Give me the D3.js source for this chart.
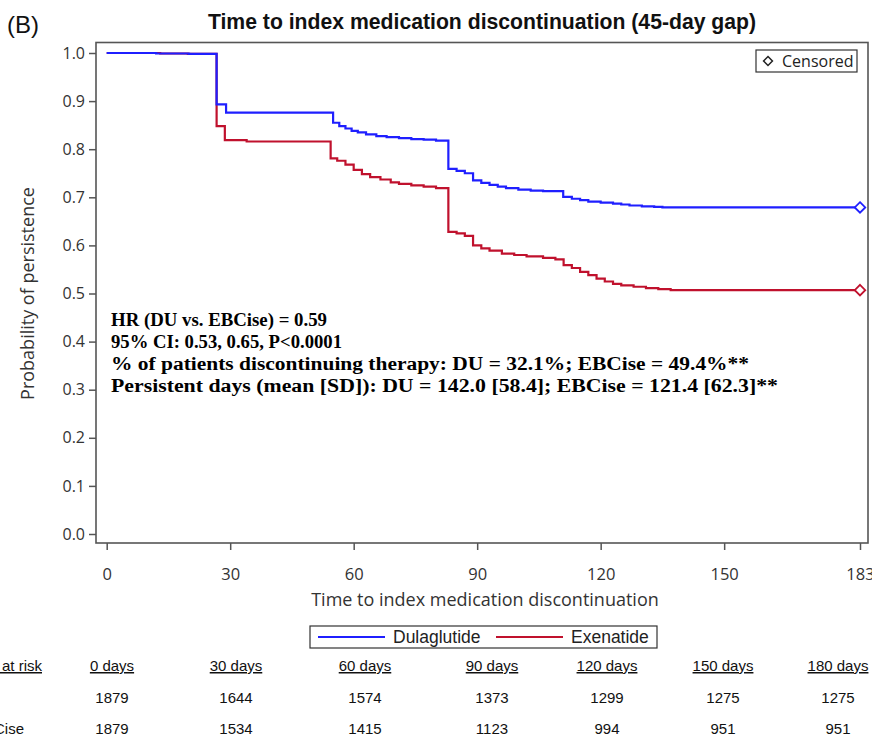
<!DOCTYPE html>
<html><head><meta charset="utf-8">
<script src="https://cdn.jsdelivr.net/npm/d3@7"></script>
<style>
html,body{margin:0;padding:0;background:#fff;}
svg{display:block;}
</style></head>
<body>
<svg id="chart" width="872" height="739"></svg>
<script>
// ---------- DATA ----------
const seriesNames = ["Dulaglutide", "Exenatide"];
const duTimes  = [0, 12, 20, 26.7, 29, 55, 56.5, 58, 59.5, 61, 63, 65.5, 68, 71, 74, 77, 80, 83, 85, 87, 89, 91, 93, 95, 97, 100, 103, 106, 110.9, 113, 115, 117, 120, 123, 125, 127, 130, 133, 135];
const duValues = [1.0, 0.999, 0.998, 0.893, 0.876, 0.855, 0.848, 0.843, 0.838, 0.835, 0.831, 0.827, 0.825, 0.823, 0.821, 0.820, 0.818, 0.759, 0.755, 0.750, 0.735, 0.730, 0.726, 0.722, 0.719, 0.716, 0.714, 0.713, 0.701, 0.697, 0.694, 0.691, 0.689, 0.687, 0.685, 0.683, 0.681, 0.680, 0.679];
const exTimes  = [0, 13, 19.7, 26.7, 28.7, 34, 54.4, 56, 58, 60, 62, 64, 66.5, 69, 71, 74, 77, 80, 83, 85, 87, 89, 91, 93, 96, 99, 102, 106, 109, 111, 113, 115, 117, 119, 121, 123, 125, 128, 131, 134, 137];
const exValues = [1.0, 0.999, 0.998, 0.848, 0.819, 0.816, 0.781, 0.776, 0.768, 0.757, 0.748, 0.742, 0.737, 0.731, 0.728, 0.725, 0.722, 0.719, 0.628, 0.625, 0.620, 0.600, 0.594, 0.589, 0.583, 0.580, 0.577, 0.574, 0.571, 0.559, 0.553, 0.545, 0.538, 0.531, 0.525, 0.520, 0.517, 0.514, 0.511, 0.509, 0.507];
const censorTime = 183;
const xTicks = [0, 30, 60, 90, 120, 150, 183];
const yTicks = [0, 0.1, 0.2, 0.3, 0.4, 0.5, 0.6, 0.7, 0.8, 0.9, 1.0];
const statLines = [
  "HR (DU vs. EBCise) = 0.59",
  "95% CI: 0.53, 0.65, P<0.0001",
  "% of patients discontinuing therapy: DU = 32.1%; EBCise = 49.4%**",
  "Persistent days (mean [SD]): DU = 142.0 [58.4]; EBCise = 121.4 [62.3]**"
];
const riskHeader = "Number at risk";
const riskDays = ["0 days", "30 days", "60 days", "90 days", "120 days", "150 days", "180 days"];
const riskRowLabels = ["DU", "EBCise"];
const riskDU = [1879, 1644, 1574, 1373, 1299, 1275, 1275];
const riskEB = [1879, 1534, 1415, 1123, 994, 951, 951];

// ---------- LAYOUT ----------
const svg = d3.select("#chart");
const frame = {l: 96, r: 868, t: 42.5, b: 543};
const x = d3.scaleLinear().domain([0, 183]).range([106.7, 860]);
const y = d3.scaleLinear().domain([0, 1]).range([534, 53]);
const colors = {du: "#1f1fff", ex: "#c0112d"};
const axisColor = "#555";
const sans = "'Open Sans', 'Noto Sans', sans-serif";
const arial = "'Liberation Sans', Arial, sans-serif";

// panel label & title
svg.append("text").attr("x", 7).attr("y", 33).attr("font-family", arial)
  .attr("font-size", 24).attr("fill", "#111").text("(B)");
svg.append("text").attr("x", 482).attr("y", 29).attr("text-anchor", "middle")
  .attr("font-family", arial).attr("font-weight", "bold").attr("font-size", 21.2)
  .attr("fill", "#111").text("Time to index medication discontinuation (45-day gap)");

// y axis
const yAxis = d3.axisLeft(y).tickValues(yTicks).tickFormat(d3.format(".1f")).tickSize(7).tickPadding(4);
const gy = svg.append("g").attr("transform", `translate(${frame.l},0)`).call(yAxis);
gy.select(".domain").remove();
gy.selectAll("line").attr("stroke", axisColor).attr("stroke-width", 1.5);
gy.selectAll("text").attr("font-family", sans).attr("font-size", 16).attr("fill", "#333");

// x axis
const xAxis = d3.axisBottom(x).tickValues(xTicks).tickFormat(d3.format("d")).tickSize(7).tickPadding(18);
const gx = svg.append("g").attr("transform", `translate(0,${frame.b})`).call(xAxis);
gx.select(".domain").remove();
gx.selectAll("line").attr("stroke", axisColor).attr("stroke-width", 1.5);
gx.selectAll("text").attr("font-family", sans).attr("font-size", 16.5).attr("fill", "#333");

// frame
svg.append("rect").attr("x", frame.l).attr("y", frame.t)
  .attr("width", frame.r - frame.l).attr("height", frame.b - frame.t)
  .attr("fill", "none").attr("stroke", axisColor).attr("stroke-width", 1.6);

// axis titles
svg.append("text").attr("transform", `translate(34,${(53 + 534) / 2}) rotate(-90)`)
  .attr("text-anchor", "middle").attr("font-family", sans).attr("font-size", 18)
  .attr("fill", "#333").text("Probability of persistence");
svg.append("text").attr("x", 485).attr("y", 606).attr("text-anchor", "middle")
  .attr("font-family", sans).attr("font-size", 18).attr("fill", "#333")
  .text("Time to index medication discontinuation");

// curves
const line = d3.line().x(d => x(d[0])).y(d => y(d[1])).curve(d3.curveStepAfter);
function drawSeries(times, values, color) {
  const pts = times.map((t, i) => [t, values[i]]);
  pts.push([censorTime, values[values.length - 1]]);
  svg.append("path").datum(pts).attr("d", line).attr("fill", "none")
    .attr("stroke", color).attr("stroke-width", 2.2);
  const cx = x(censorTime), cy = y(values[values.length - 1]);
  svg.append("path").attr("d", d3.symbol(d3.symbolDiamond2, 70)())
    .attr("transform", `translate(${cx},${cy})`)
    .attr("fill", "#fff").attr("stroke", color).attr("stroke-width", 1.8);
}
drawSeries(exTimes, exValues, colors.ex);
drawSeries(duTimes, duValues, colors.du);

// stats text
const statWidths = [216, 231, 638, 667];
const st = svg.append("g");
statLines.forEach((s, i) => {
  st.append("text").attr("x", 111).attr("y", 326 + i * 22)
    .attr("font-family", "'Liberation Serif', 'Times New Roman', serif")
    .attr("font-weight", "bold").attr("font-size", 18.6).attr("fill", "#000")
    .attr("textLength", statWidths[i]).attr("lengthAdjust", "spacingAndGlyphs").text(s);
});

// censored legend
svg.append("rect").attr("x", 756).attr("y", 50).attr("width", 101).attr("height", 22)
  .attr("fill", "#fff").attr("stroke", "#333").attr("stroke-width", 1.2);
svg.append("path").attr("d", d3.symbol(d3.symbolDiamond2, 50)())
  .attr("transform", "translate(768,61)").attr("fill", "#fff")
  .attr("stroke", "#222").attr("stroke-width", 1.5);
svg.append("text").attr("x", 782).attr("y", 67).attr("font-family", sans)
  .attr("font-size", 16).attr("fill", "#222").text("Censored");

// series legend
svg.append("rect").attr("x", 310).attr("y", 626).attr("width", 347).attr("height", 22)
  .attr("fill", "#fff").attr("stroke", "#333").attr("stroke-width", 1.2);
const lg = [{n: seriesNames[0], c: colors.du, x: 318}, {n: seriesNames[1], c: colors.ex, x: 496}];
lg.forEach(d => {
  svg.append("line").attr("x1", d.x).attr("x2", d.x + 67).attr("y1", 637).attr("y2", 637)
    .attr("stroke", d.c).attr("stroke-width", 2.2);
  svg.append("text").attr("x", d.x + 75).attr("y", 643).attr("font-family", arial)
    .attr("font-size", 17.5).attr("fill", "#222").text(d.n);
});

// at-risk table
const colX = [112, 236, 365, 492, 607, 723, 838];
const fs = 15;
function uText(xp, yp, s, anchor) {
  return svg.append("text").attr("x", xp).attr("y", yp).attr("text-anchor", anchor)
    .attr("font-family", arial).attr("font-size", fs).attr("fill", "#111")
    .attr("text-decoration", "underline").text(s);
}
uText(42, 671, riskHeader, "end");
riskDays.forEach((d, i) => uText(colX[i], 671, d, "middle"));
const rows = [riskDU, riskEB];
rows.forEach((r, j) => {
  svg.append("text").attr("x", 24).attr("y", 703 + j * 31).attr("text-anchor", "end")
    .attr("font-family", arial).attr("font-size", fs).attr("fill", "#111")
    .text(j === 0 ? "" : riskRowLabels[j]);
  r.forEach((v, i) => {
    svg.append("text").attr("x", colX[i]).attr("y", 703 + j * 31).attr("text-anchor", "middle")
      .attr("font-family", arial).attr("font-size", fs).attr("fill", "#111").text(v);
  });
});
</script>
</body></html>
